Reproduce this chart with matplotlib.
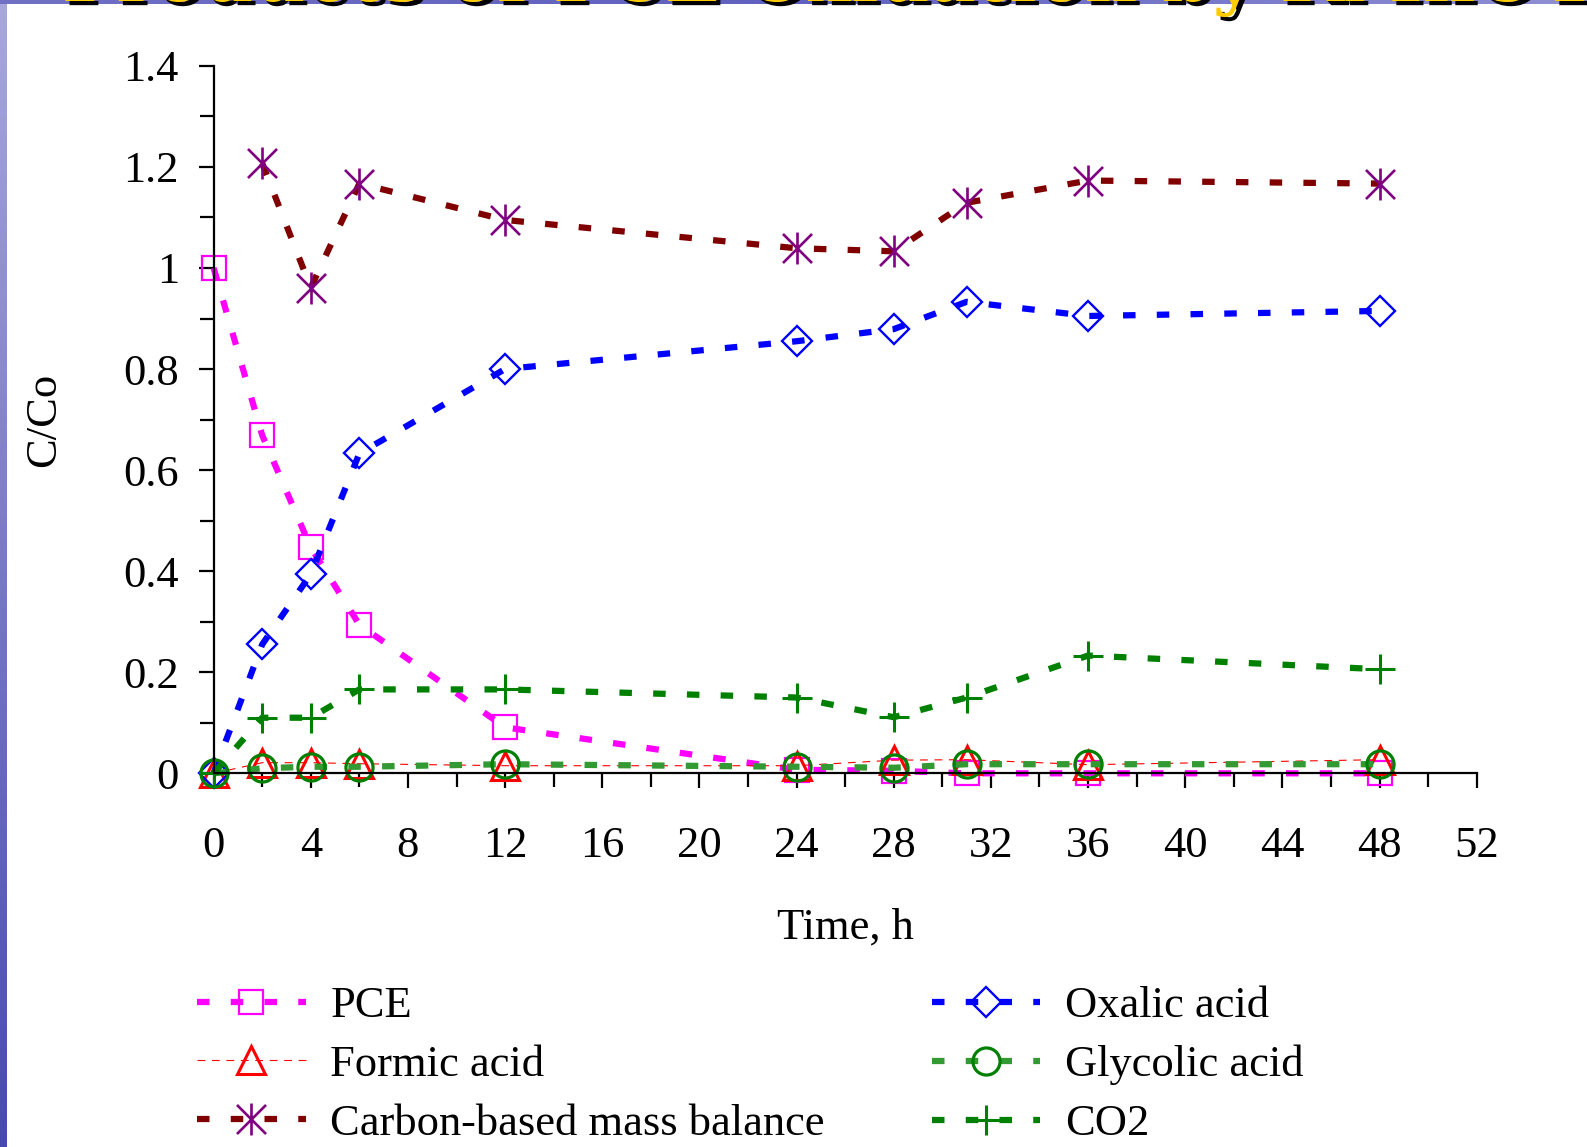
import numpy as np
import matplotlib
matplotlib.use('Agg')
import matplotlib.pyplot as plt
import matplotlib.patheffects as pe
from matplotlib.path import Path
from matplotlib.ticker import MultipleLocator
from matplotlib.colors import LinearSegmentedColormap

plt.rcParams['font.family'] = ['Liberation Serif', 'DejaVu Serif']

# values
time_h = [0, 2, 4, 6, 12, 24, 28, 31, 36, 48]
pce = [1.0, 0.669, 0.447, 0.294, 0.091, 0.007, 0.005, 0.0, 0.0, 0.0]
oxalic = [0.0, 0.255, 0.394, 0.633, 0.800, 0.855, 0.879, 0.933, 0.905, 0.915]
formic = [0.0, 0.021, 0.021, 0.019, 0.015, 0.015, 0.026, 0.027, 0.017, 0.027]
glycolic = [0.0, 0.010, 0.013, 0.013, 0.018, 0.013, 0.011, 0.018, 0.018, 0.018]
co2 = [0.0, 0.110, 0.110, 0.166, 0.166, 0.150, 0.111, 0.150, 0.233, 0.206]
balance_time = [2, 4, 6, 12, 24, 28, 31, 36, 48]
balance = [1.207, 0.961, 1.167, 1.095, 1.039, 1.033, 1.129, 1.173, 1.167]

x_ticks = list(range(0, 53, 4))
y_ticks = [0, 0.2, 0.4, 0.6, 0.8, 1.0, 1.2, 1.4]
y_tick_labels = ['0', '0.2', '0.4', '0.6', '0.8', '1', '1.2', '1.4']

# asterisk like the Excel marker: X plus a vertical bar
star = Path([(-1, -1), (1, 1), (-1, 1), (1, -1), (0, -1.1), (0, 1.1)],
            [Path.MOVETO, Path.LINETO, Path.MOVETO, Path.LINETO, Path.MOVETO, Path.LINETO])

fig = plt.figure(figsize=(15.87, 11.47), dpi=100)
ax = fig.add_axes([0.1346, 0.3258, 0.7959, 0.6168])

dots = (0, (2.0, 3.4))
lw = 4.5

l_pce, = ax.plot(time_h, pce, color='#FF00FF', lw=lw, ls=dots, marker='s', ms=17.5,
                 mfc='none', mec='#FF00FF', mew=1.6, clip_on=False, label='PCE')
l_form, = ax.plot(time_h, formic, color='#FF0000', lw=0.8, ls=(0, (7, 6)), marker='^', ms=20.5,
                  mfc='none', mec='#FF0000', mew=2.2, clip_on=False, label='Formic acid')
l_ox, = ax.plot(time_h, oxalic, color='#0000FF', lw=lw, ls=dots, marker='D', ms=15.5,
                mfc='none', mec='#0000FF', mew=1.7, clip_on=False, label='Oxalic acid')
l_gly, = ax.plot(time_h, glycolic, color='#339933', lw=lw, ls=dots, marker='o', ms=19.5,
                 mfc='none', mec='#008000', mew=2.3, clip_on=False, label='Glycolic acid')
l_co2, = ax.plot(time_h, co2, color='#008000', lw=lw, ls=dots, marker='+', ms=22,
                 mec='#008000', mew=2.2, clip_on=False, label='CO2')
l_bal, = ax.plot(balance_time, balance, color='#800000', lw=lw, ls=dots, marker=star, ms=23,
                 mfc='none', mec='#800080', mew=1.9, clip_on=False,
                 label='Carbon-based mass balance')

ax.set_xlim(0, 52)
ax.set_ylim(0, 1.4)
ax.set_xticks(x_ticks)
ax.set_yticks(y_ticks)
ax.set_yticklabels(y_tick_labels)
ax.xaxis.set_minor_locator(MultipleLocator(2))
ax.yaxis.set_minor_locator(MultipleLocator(0.1))
ax.spines['top'].set_visible(False)
ax.spines['right'].set_visible(False)
ax.spines['left'].set_linewidth(1.6)
ax.spines['bottom'].set_linewidth(1.6)
ax.patch.set_alpha(0)
ax.tick_params(which='major', direction='out', length=11, width=1.6, labelsize=32)
ax.tick_params(which='minor', direction='out', length=10, width=1.6)
ax.tick_params(axis='x', which='major', pad=27)
ax.tick_params(axis='y', which='major', pad=14)

ax.set_xlabel('Time, h', fontsize=32)
ax.set_ylabel('C/Co', fontsize=32)
ax.xaxis.set_label_coords(0.5, -0.19)
ax.yaxis.set_label_coords(-0.118, 0.5)

handles = [l_pce, l_form, l_bal, l_ox, l_gly, l_co2]
fig.legend(handles, [h.get_label() for h in handles], loc='upper left',
           bbox_to_anchor=(197 / 1587, 1 - 986 / 1147), ncol=2, frameon=False,
           fontsize=32, handlelength=2.45, handletextpad=0.55, columnspacing=2.4,
           labelspacing=0.42, borderpad=0, borderaxespad=0)

# slide background edges (cropped screenshot)
grad = np.linspace(0, 1, 256).reshape(-1, 1)
strip = fig.add_axes([0, 0, 7 / 1587, 1])
strip.imshow(grad, aspect='auto',
             cmap=LinearSegmentedColormap.from_list('side', ['#A8A8DC', '#4848B4']))
strip.axis('off')
band = fig.add_axes([0, 1 - 4 / 1147, 1, 4 / 1147])
band.imshow(grad.T, aspect='auto',
            cmap=LinearSegmentedColormap.from_list('top', ['#7070C4', '#6060C0', '#9090D4']))
band.axis('off')
fig.text(62 / 1587, 1 - 1 / 1147, 'Products of PCE Oxidation by KMnO4', fontsize=52,
         family='DejaVu Serif', weight='bold', color='#FFCC00', va='baseline',
         path_effects=[pe.withSimplePatchShadow(offset=(3, -3), shadow_rgbFace='black', alpha=1)])

fig.savefig('out.png', dpi=100)
